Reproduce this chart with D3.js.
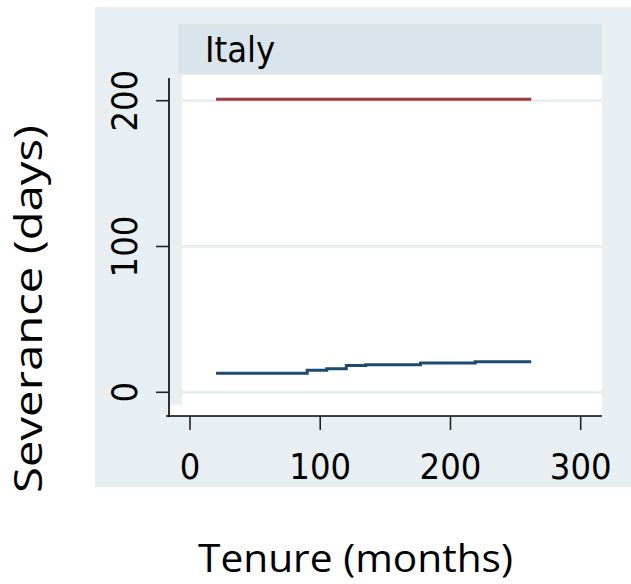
<!DOCTYPE html>
<html>
<head>
<meta charset="utf-8">
<script src="https://cdn.jsdelivr.net/npm/d3@7"></script>
<style>
  body { margin: 0; background: #ffffff; }
  .tick-lbl { font-family: "DejaVu Sans Condensed", "DejaVu Sans", sans-serif; font-size: 36px; fill: #000; }
  .ax-title { font-family: "Open Sans", "Noto Sans", sans-serif; font-weight: 400; font-size: 38px; fill: #000; }
</style>
</head>
<body>
<div id="chart"></div>
<script>
// data
var panelTitle = "Italy";
var xTicks = [0, 100, 200, 300];
var yTicks = [0, 100, 200];
// blue series: step function, tenure (months) -> severance (days)
var tenureSteps = [20, 90, 105, 120, 135, 177, 219, 262];
var severanceSteps = [13, 15.1, 16.2, 18.3, 18.9, 20.1, 21, 21];
// red series: flat cap
var capTenure = [20, 262];
var capSeverance = [201, 201];

var W = 631, H = 584;
var svg = d3.select("#chart").append("svg")
    .attr("width", W)
    .attr("height", H);

var x = d3.scaleLinear().domain([0, 300]).range([190, 580.7]);
var y = d3.scaleLinear().domain([0, 200]).range([392.3, 100.7]);

// outer graph region
svg.append("rect").attr("x", 95).attr("y", 7).attr("width", W - 95).attr("height", 480)
    .attr("fill", "#e8eff2");

// panel title strip
svg.append("rect").attr("x", 178).attr("y", 24).attr("width", 424).attr("height", 50)
    .attr("fill", "#d9e5eb");
svg.append("text").attr("class", "tick-lbl").attr("x", 205).attr("y", 62).text(panelTitle);

// plot region
svg.append("rect").attr("x", 170).attr("y", 75).attr("width", 432).attr("height", 341)
    .attr("fill", "#ffffff");
svg.append("rect").attr("x", 170).attr("y", 75).attr("width", 12).attr("height", 330)
    .attr("fill", "#e8eff2");

// grid lines
svg.selectAll("line.grid")
    .data(yTicks)
    .enter().append("line")
    .attr("class", "grid")
    .attr("x1", 180).attr("x2", 602)
    .attr("y1", function (d) { return y(d); })
    .attr("y2", function (d) { return y(d); })
    .attr("stroke", "#e8eff2")
    .attr("stroke-width", 3);

// series
var line = d3.line()
    .x(function (d) { return x(d[0]); })
    .y(function (d) { return y(d[1]); });

svg.append("path")
    .datum(d3.zip(capTenure, capSeverance))
    .attr("d", line)
    .attr("fill", "none")
    .attr("stroke", "#9e3a40")
    .attr("stroke-width", 3);

svg.append("path")
    .datum(d3.zip(tenureSteps, severanceSteps))
    .attr("d", line.curve(d3.curveStepAfter))
    .attr("fill", "none")
    .attr("stroke", "#1f4a70")
    .attr("stroke-width", 3);

// y axis
svg.append("line").attr("x1", 169).attr("x2", 169).attr("y1", 78).attr("y2", 417)
    .attr("stroke", "#000").attr("stroke-width", 1.6);
svg.selectAll("line.ytick")
    .data(yTicks)
    .enter().append("line")
    .attr("class", "ytick")
    .attr("x1", 156).attr("x2", 169)
    .attr("y1", function (d) { return y(d); })
    .attr("y2", function (d) { return y(d); })
    .attr("stroke", "#222").attr("stroke-width", 1.6);
svg.selectAll("text.ylbl")
    .data(yTicks)
    .enter().append("text")
    .attr("class", "tick-lbl ylbl")
    .attr("text-anchor", "middle")
    .attr("transform", function (d) { return "translate(137," + y(d) + ") rotate(-90)"; })
    .text(function (d) { return d; });

// x axis
svg.append("line").attr("x1", 166).attr("x2", 602).attr("y1", 416).attr("y2", 416)
    .attr("stroke", "#000").attr("stroke-width", 1.6);
svg.selectAll("line.xtick")
    .data(xTicks)
    .enter().append("line")
    .attr("class", "xtick")
    .attr("x1", function (d) { return x(d); })
    .attr("x2", function (d) { return x(d); })
    .attr("y1", 416).attr("y2", 430)
    .attr("stroke", "#222").attr("stroke-width", 1.6);
svg.selectAll("text.xlbl")
    .data(xTicks)
    .enter().append("text")
    .attr("class", "tick-lbl xlbl")
    .attr("text-anchor", "middle")
    .attr("x", function (d) { return x(d); })
    .attr("y", 479)
    .text(function (d) { return d; });

// axis titles
svg.append("text").attr("class", "ax-title")
    .attr("transform", "translate(42,309) rotate(-90)")
    .attr("text-anchor", "middle")
    .attr("textLength", 368).attr("lengthAdjust", "spacingAndGlyphs")
    .text("Severance (days)");
svg.append("text").attr("class", "ax-title")
    .attr("x", 198).attr("y", 572)
    .attr("textLength", 315).attr("lengthAdjust", "spacingAndGlyphs")
    .text("Tenure (months)");
</script>
</body>
</html>
